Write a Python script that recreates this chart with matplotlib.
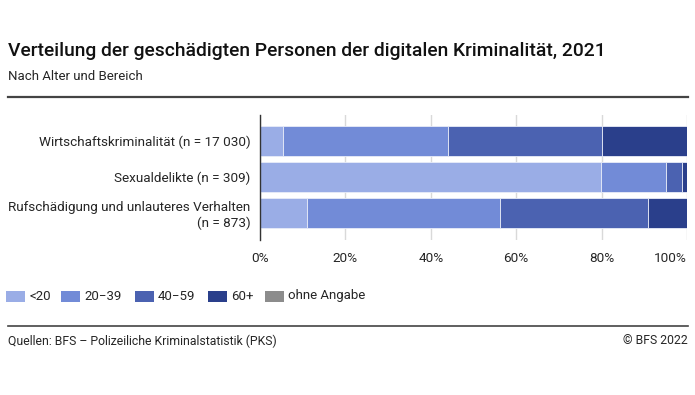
import matplotlib
matplotlib.use("Agg")
import matplotlib.pyplot as plt
from matplotlib.lines import Line2D
from matplotlib.patches import Rectangle
import numpy as np

plt.rcParams["font.family"] = ["Roboto", "DejaVu Sans"]

# Data (shares in %)
categories = [
    "Wirtschaftskriminalität (n = 17 030)",
    "Sexualdelikte (n = 309)",
    "Rufschädigung und unlauteres Verhalten\n(n = 873)",
]
age_groups = ["<20", "20\u221239", "40\u221259", "60+", "ohne Angabe"]
under_20 = [5.5, 79.8, 11.1]
age_20_39 = [38.5, 15.3, 45.1]
age_40_59 = [36.0, 3.8, 34.7]
age_60_plus = [20.0, 1.1, 9.1]
no_answer = [0.0, 0.0, 0.0]
series = [under_20, age_20_39, age_40_59, age_60_plus, no_answer]
colors = ["#9aade6", "#728bd7", "#4b62b1", "#2a3f8b", "#8c8c8c"]
xticks = [0, 20, 40, 60, 80, 100]
TXT = "#262626"

W, H = 695, 395
fig = plt.figure(figsize=(W / 100, H / 100), dpi=100)

ax = fig.add_axes([260 / W, 1 - 240 / H, 427 / W, 125 / H])
y = np.arange(len(categories))
left = np.zeros(len(categories))
for vals, col in zip(series, colors):
    vals = np.array(vals)
    ax.barh(y, vals, left=left, height=0.83, color=col,
            edgecolor="#e8ecf8", linewidth=0.6, zorder=3)
    left += vals

ax.set_xlim(0, 100)
ax.set_ylim(2.75, -0.72)
ax.set_yticks(y)
ax.set_yticklabels(categories, fontsize=9.7, color=TXT)
ax.set_xticks(xticks)
ax.set_xticklabels([f"{t}%" for t in xticks], fontsize=9.7, color=TXT)
ax.get_xticklabels()[-1].set_horizontalalignment("right")
ax.tick_params(axis="both", length=0, pad=7)
ax.tick_params(axis="x", pad=9)
ax.grid(axis="x", color="#d9d9d9", linewidth=1, zorder=0)
for s in ["top", "right", "bottom"]:
    ax.spines[s].set_visible(False)
ax.spines["left"].set_color("#333333")
ax.spines["left"].set_linewidth(1)
ax.spines["left"].set_zorder(4)

# Title block
fig.text(8 / W, 1 - 51 / H, "Verteilung der geschädigten Personen der digitalen Kriminalität, 2021",
         fontsize=13.9, fontweight="medium", color="#111111", va="center", ha="left")
fig.text(8 / W, 1 - 77 / H, "Nach Alter und Bereich", fontsize=9.5, color=TXT,
         va="center", ha="left")
fig.add_artist(Line2D([8 / W, 688 / W], [1 - 97 / H, 1 - 97 / H], color="#444444", linewidth=1.6))

# Legend (drawn by hand to keep the reference spacing)
legend_x = [6, 61, 135, 208, 265]
for lx, lab, col in zip(legend_x, age_groups, colors):
    fig.add_artist(Rectangle((lx / W, 1 - 302 / H), 19 / W, 11 / H,
                             transform=fig.transFigure, facecolor=col, edgecolor="none"))
    fig.text((lx + 23) / W, 1 - 296 / H, lab, fontsize=9.5, color=TXT,
             va="center", ha="left")

# Footer
fig.add_artist(Line2D([8 / W, 688 / W], [1 - 326 / H, 1 - 326 / H], color="#444444", linewidth=1.2))
fig.text(8 / W, 1 - 341 / H, "Quellen: BFS \u2013 Polizeiliche Kriminalstatistik (PKS)",
         fontsize=8.8, color=TXT, va="center", ha="left")
fig.text(688 / W, 1 - 341 / H, "\u00a9 BFS 2022", fontsize=8.8, color=TXT,
         va="center", ha="right")

fig.savefig("out.png", dpi=100)
